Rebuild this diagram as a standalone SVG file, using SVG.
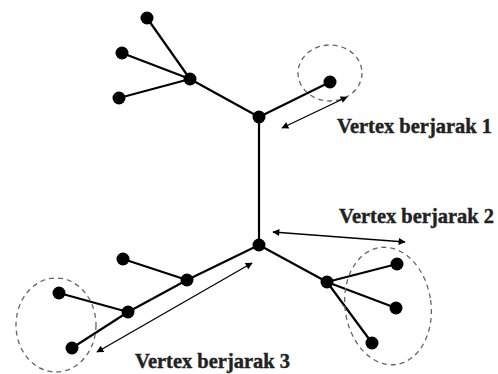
<svg xmlns="http://www.w3.org/2000/svg" width="498" height="374" viewBox="0 0 498 374">
<defs>
<marker id="ah" viewBox="0 0 10 10" refX="9" refY="5" markerWidth="9" markerHeight="7" markerUnits="userSpaceOnUse" orient="auto-start-reverse">
<path d="M0,0 L10,5 L0,10 z" fill="#000"/>
</marker>
</defs>
<style>
.e{stroke:#000;stroke-width:2.2;fill:none}
.n{fill:#000}
.d{stroke:#666;stroke-width:1.3;stroke-dasharray:5,4;fill:none}
.a{stroke:#000;stroke-width:1.3;fill:none;marker-start:url(#ah);marker-end:url(#ah)}
.t{font-family:"Liberation Serif","Times New Roman",serif;font-weight:bold;font-size:20px;fill:#222;stroke:#222;stroke-width:0.4}
</style>
<rect width="498" height="374" fill="#fff"/>
<g id="edges">
<line class="e" x1="147" y1="18" x2="190" y2="79"/>
<line class="e" x1="122" y1="53" x2="190" y2="79"/>
<line class="e" x1="119" y1="98" x2="190" y2="79"/>
<line class="e" x1="190" y1="79" x2="259" y2="117"/>
<line class="e" x1="259" y1="117" x2="330" y2="82"/>
<line class="e" x1="259" y1="117" x2="259" y2="245"/>
<line class="e" x1="259" y1="245" x2="327" y2="282"/>
<line class="e" x1="327" y1="282" x2="397" y2="264"/>
<line class="e" x1="327" y1="282" x2="396" y2="308"/>
<line class="e" x1="327" y1="282" x2="372" y2="343"/>
<line class="e" x1="259" y1="245" x2="187" y2="280"/>
<line class="e" x1="187" y1="280" x2="123" y2="259"/>
<line class="e" x1="187" y1="280" x2="128" y2="312"/>
<line class="e" x1="128" y1="312" x2="59" y2="293"/>
<line class="e" x1="128" y1="312" x2="72" y2="348"/>
</g>
<g id="n1"><circle class="n" cx="147" cy="18" r="6.5"/></g>
<g id="n2"><circle class="n" cx="122" cy="53" r="6.5"/></g>
<g id="n3"><circle class="n" cx="119" cy="98" r="6.5"/></g>
<g id="n4"><circle class="n" cx="190" cy="79" r="6.5"/></g>
<g id="n5"><circle class="n" cx="259" cy="117" r="6.5"/></g>
<g id="n6"><circle class="n" cx="330" cy="82" r="6.5"/></g>
<g id="n7"><circle class="n" cx="259" cy="245" r="6.5"/></g>
<g id="n8"><circle class="n" cx="327" cy="282" r="6.5"/></g>
<g id="n9"><circle class="n" cx="397" cy="264" r="6.5"/></g>
<g id="n10"><circle class="n" cx="396" cy="308" r="6.5"/></g>
<g id="n11"><circle class="n" cx="372" cy="343" r="6.5"/></g>
<g id="n12"><circle class="n" cx="187" cy="280" r="6.5"/></g>
<g id="n13"><circle class="n" cx="123" cy="259" r="6.5"/></g>
<g id="n14"><circle class="n" cx="128" cy="312" r="6.5"/></g>
<g id="n15"><circle class="n" cx="59" cy="293" r="6.5"/></g>
<g id="n16"><circle class="n" cx="72" cy="348" r="6.5"/></g>
<g id="groups">
<ellipse class="d" cx="330" cy="73" rx="32" ry="28"/>
<ellipse class="d" cx="388" cy="306" rx="43" ry="59" transform="rotate(-8 388 306)"/>
<ellipse class="d" cx="56" cy="325" rx="40" ry="47"/>
</g>
<g id="arrows">
<line class="a" x1="282" y1="128" x2="347" y2="97"/>
<line class="a" x1="273" y1="232" x2="405" y2="242"/>
<line class="a" x1="97" y1="352" x2="252" y2="263"/>
</g>
<g id="labels">
<text class="t" x="337" y="133" textLength="155" lengthAdjust="spacingAndGlyphs">Vertex berjarak 1</text>
<text class="t" x="339" y="223" textLength="155" lengthAdjust="spacingAndGlyphs">Vertex berjarak 2</text>
<text class="t" x="135" y="368" textLength="155" lengthAdjust="spacingAndGlyphs">Vertex berjarak 3</text>
</g>
</svg>
